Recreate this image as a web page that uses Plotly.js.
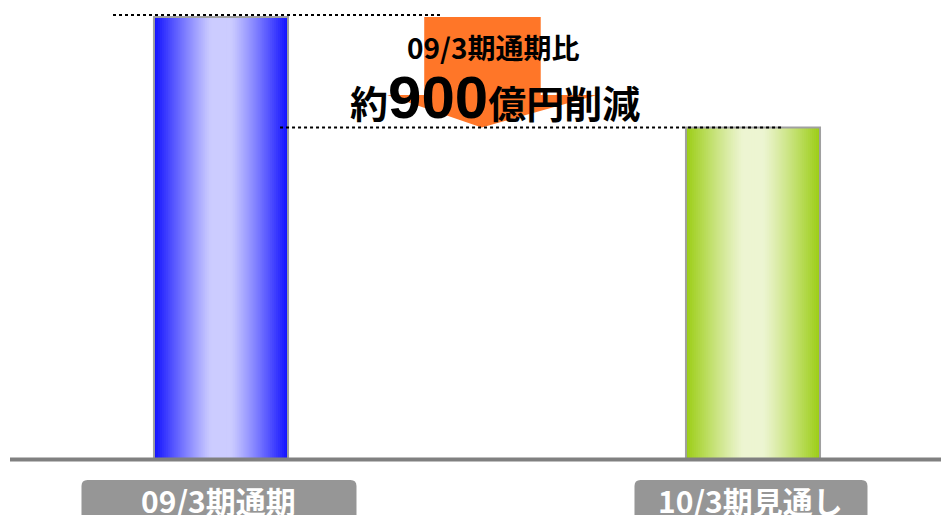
<!DOCTYPE html>
<html>
<head>
<meta charset="utf-8">
<script src="https://cdn.plot.ly/plotly-3.0.1.min.js"></script>
<style>
  html, body { margin: 0; padding: 0; background: #ffffff; }
  #chart { width: 941px; height: 515px; }
</style>
</head>
<body>
<div id="chart"></div>
<script>
// ---- data ----
var categories = ['09/3期通期', '10/3期見通し'];
var values = [3600, 2700];           // 億円 (estimated)
var reductionLabel = '09/3期通期比';
var reductionPrefix = '約';
var reductionAmount = '900';
var reductionSuffix = '億円削減';

// ---- styling ----
var W = 941, H = 515;
var M = { l: 10, r: 0, t: 0, b: 56 };
var plotW = W - M.l - M.r, plotH = H - M.t - M.b;
var Y_MAX = 3738;
var X_RANGE = [-0.3966, 1.3534];
var BAR_W = 0.252;
var edgeCols = [[16, 16, 255], [155, 205, 20]];
var centerCols = [[204, 204, 255], [237, 245, 210]];
var labelBoxW = [275, 233];

function mix(a, b, s) {
  return 'rgb(' + [0, 1, 2].map(function (i) { return Math.round(a[i] * (1 - s) + b[i] * s); }).join(',') + ')';
}
function profile(d) {
  if (d < 0.15) return 0;
  return Math.pow((d - 0.15) / 0.85, 1.1);
}

var traces = [];
var N = 34;
for (var k = 0; k < N; k++) {
  var bw0 = BAR_W * (1 - k / N);
  var dd = (N - k - 0.5) / N;
  var ss = profile(dd);
  traces.push({
    type: 'bar',
    x: categories,
    y: values,
    width: [bw0, bw0],
    marker: {
      color: [mix(centerCols[0], edgeCols[0], ss), mix(centerCols[1], edgeCols[1], ss)],
      line: { width: 0 }
    },
    hoverinfo: 'skip',
    showlegend: false
  });
}
traces.push({
  type: 'bar',
  x: categories,
  y: values,
  width: [BAR_W, BAR_W],
  marker: { color: 'rgba(0,0,0,0)', line: { color: '#a0a0a0', width: 2 } },
  hoverinfo: 'skip',
  showlegend: false
});

function px2paperX(px) { return (px - M.l) / plotW; }
function px2paperY(py) { return (M.t + plotH - py) / plotH; }
function roundedBox(x0, x1, y0, y1, r) {
  var X = px2paperX, Y = px2paperY;
  return 'M' + X(x0 + r) + ',' + Y(y0) +
    ' L' + X(x1 - r) + ',' + Y(y0) +
    ' Q' + X(x1) + ',' + Y(y0) + ' ' + X(x1) + ',' + Y(y0 + r) +
    ' L' + X(x1) + ',' + Y(y1 - r) +
    ' Q' + X(x1) + ',' + Y(y1) + ' ' + X(x1 - r) + ',' + Y(y1) +
    ' L' + X(x0 + r) + ',' + Y(y1) +
    ' Q' + X(x0) + ',' + Y(y1) + ' ' + X(x0) + ',' + Y(y1 - r) +
    ' L' + X(x0) + ',' + Y(y0 + r) +
    ' Q' + X(x0) + ',' + Y(y0) + ' ' + X(x0 + r) + ',' + Y(y0) + ' Z';
}
function catPx(i) { return M.l + (i - X_RANGE[0]) / (X_RANGE[1] - X_RANGE[0]) * plotW; }

var yHigh = values[0], yLow = values[1];
var headBase = yLow + 0.293 * (yHigh - yLow);
var ax = 0.49;
var shapes = [
  {
    type: 'path', xref: 'x', yref: 'y', layer: 'below',
    path: 'M0.382,' + yHigh + ' L0.601,' + yHigh + ' L0.601,' + headBase +
      ' L0.707,' + headBase + ' L' + ax + ',' + yLow + ' L0.312,' + headBase +
      ' L0.382,' + headBase + ' Z',
    fillcolor: '#ff7628', line: { width: 0 }
  },
  { type: 'line', xref: 'x', yref: 'y', x0: -0.203, x1: 0.417, y0: yHigh + 16, y1: yHigh + 16,
    line: { color: '#000', width: 2, dash: 'dot' } },
  { type: 'line', xref: 'x', yref: 'y', x0: 0.111, x1: 1.056, y0: yLow, y1: yLow,
    line: { color: '#000', width: 2, dash: 'dot' } },
  { type: 'line', xref: 'paper', yref: 'paper', x0: 0, x1: 1,
    y0: px2paperY(459.5), y1: px2paperY(459.5),
    line: { color: '#808080', width: 4 } }
];
var annotations = [
  { xref: 'paper', yref: 'paper', x: px2paperX(493), y: px2paperY(47), showarrow: false,
    xanchor: 'center', yanchor: 'middle',
    text: '<b>' + reductionLabel + '</b>',
    font: { family: 'Noto Sans CJK JP', size: 28, color: '#000' } },
  { xref: 'paper', yref: 'paper', x: px2paperX(495), y: px2paperY(98), showarrow: false,
    xanchor: 'center', yanchor: 'middle',
    text: '<b>' + reductionPrefix + '<span style="font-size:60px;font-family:\'Liberation Sans\', Arial">' +
      reductionAmount + '</span>' + reductionSuffix + '</b>',
    font: { family: 'Noto Sans CJK JP', size: 38, color: '#000' } }
];
categories.forEach(function (c, i) {
  var cx = catPx(i) - 2;
  var bw = labelBoxW[i];
  shapes.push({
    type: 'path', xref: 'paper', yref: 'paper', layer: 'above',
    path: roundedBox(cx - bw / 2, cx + bw / 2, 480, 530, 6),
    fillcolor: '#969696', line: { width: 0 }
  });
  annotations.push({
    xref: 'paper', yref: 'paper', x: px2paperX(cx), y: px2paperY(500),
    xanchor: 'center', yanchor: 'middle', showarrow: false,
    text: '<b>' + c + '</b>',
    font: { family: 'Noto Sans CJK JP', size: 30, color: '#ffffff' }
  });
});

var layout = {
  width: W, height: H,
  margin: M,
  paper_bgcolor: '#ffffff', plot_bgcolor: '#ffffff',
  barmode: 'overlay',
  showlegend: false,
  xaxis: { type: 'category', range: X_RANGE, showticklabels: false, showgrid: false,
    zeroline: false, showline: false, ticks: '' },
  yaxis: { range: [0, Y_MAX], showticklabels: false, showgrid: false, zeroline: false,
    showline: false, ticks: '' },
  shapes: shapes,
  annotations: annotations
};

Plotly.newPlot('chart', traces, layout, { displayModeBar: false, staticPlot: true });
</script>
</body>
</html>
